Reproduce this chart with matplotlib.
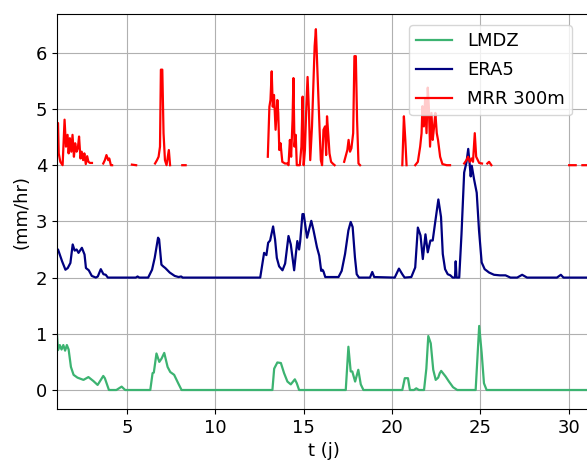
import matplotlib
matplotlib.use("Agg")
import matplotlib.pyplot as plt
import numpy as np

# LMDZ (mm/hr)
t_lmdz = [1.04, 1.1, 1.2, 1.3, 1.4, 1.5, 1.6, 1.7, 1.83, 1.98, 2.2, 2.54, 2.82, 3.1, 3.34, 3.66,
          3.75, 3.98, 4.4, 4.7, 4.9, 6.32, 6.45, 6.52, 6.67, 6.83, 6.96, 7.11, 7.3, 7.45, 7.67,
          7.9, 8.09, 13.23, 13.33, 13.51, 13.71, 13.89, 14.08, 14.27, 14.5, 14.61, 14.74, 17.38,
          17.53, 17.66, 17.75, 17.91, 18.09, 18.23, 18.38, 20.58, 20.72, 20.9, 21.01, 21.24, 21.37,
          21.52, 21.81, 21.94, 22.05, 22.19, 22.33, 22.47, 22.61, 22.7, 22.78, 23.03, 23.22, 23.45,
          23.69, 24.73, 24.93, 25.07, 25.2, 25.35, 31.2]
v_lmdz = [1.0, 0.71, 0.8, 0.72, 0.8, 0.7, 0.8, 0.72, 0.41, 0.27, 0.22, 0.18, 0.23, 0.16, 0.09, 0.25,
          0.21, 0.0, 0.0, 0.06, 0.0, 0.0, 0.3, 0.31, 0.65, 0.5, 0.56, 0.66, 0.41, 0.32, 0.27,
          0.12, 0.0, 0.0, 0.38, 0.49, 0.48, 0.3, 0.15, 0.1, 0.19, 0.12, 0.0, 0.0,
          0.77, 0.33, 0.33, 0.15, 0.36, 0.1, 0.0, 0.0, 0.21, 0.21, 0.0, 0.0, 0.03,
          0.0, 0.0, 0.38, 0.96, 0.83, 0.36, 0.18, 0.22, 0.3, 0.34, 0.24, 0.15, 0.05,
          0.0, 0.0, 1.14, 0.66, 0.12, 0.0, 0.0]

# ERA5 (decale de +2)
t_era = [1.04, 1.1, 1.33, 1.52, 1.65, 1.8, 1.93, 2.04, 2.15, 2.26, 2.45, 2.6, 2.68, 2.84, 3.01,
         3.24, 3.35, 3.52, 3.67, 3.8, 3.92, 5.5, 5.6, 5.7, 6.2, 6.42, 6.57, 6.76, 6.82, 6.95,
         7.05, 7.17, 7.42, 7.7, 7.92, 8.07, 8.15, 12.54, 12.76, 12.89, 12.99, 13.1, 13.27,
         13.38, 13.48, 13.61, 13.8, 13.95, 14.14, 14.27, 14.46, 14.55, 14.64, 14.74, 14.8,
         14.93, 15.0, 15.19, 15.43, 15.55, 15.75, 15.88, 15.99, 16.06, 16.12, 16.22, 16.97,
         17.15, 17.34, 17.53, 17.66, 17.77, 17.9, 18.0, 18.13, 18.75, 18.88, 18.99, 20.15,
         20.39, 20.58, 20.71, 21.09, 21.31, 21.46, 21.61, 21.74, 21.89, 22.02, 22.17, 22.3,
         22.43, 22.62, 22.77, 22.87, 23.0, 23.15, 23.3, 23.43, 23.56, 23.6, 23.65, 23.8, 23.93,
         24.08, 24.21, 24.31, 24.4, 24.45, 24.51, 24.64, 24.79, 24.92, 25.07, 25.24, 25.49,
         25.77, 26.1, 26.42, 26.7, 27.08, 27.36, 27.64, 29.33, 29.55, 29.7, 31.2]
v_era = [2.5, 2.5, 2.29, 2.14, 2.17, 2.26, 2.59, 2.48, 2.5, 2.44, 2.53, 2.41, 2.17, 2.13, 2.03,
         2.0, 2.02, 2.15, 2.06, 2.05, 2.0, 2.0, 2.02, 2.0, 2.0, 2.14, 2.35, 2.71, 2.68, 2.23,
         2.2, 2.17, 2.09, 2.03, 2.01, 2.02, 2.0, 2.0, 2.44, 2.4, 2.62, 2.66, 2.91,
         2.68, 2.35, 2.2, 2.13, 2.25, 2.74, 2.59, 2.13, 2.4, 2.65, 2.5, 2.64,
         3.13, 3.13, 2.71, 3.01, 2.85, 2.54, 2.39, 2.12, 2.14, 2.11, 2.01, 2.01,
         2.12, 2.42, 2.84, 2.99, 2.9, 2.36, 2.06, 2.0, 2.0, 2.1, 2.01, 2.0,
         2.16, 2.06, 2.0, 2.01, 2.18, 2.89, 2.75, 2.33, 2.77, 2.45, 2.66, 2.66,
         2.96, 3.39, 3.08, 2.42, 2.15, 2.06, 2.04, 2.0, 2.0, 2.29, 2.0, 2.0, 2.78,
         3.87, 4.05, 4.29, 3.99, 3.8, 3.99, 3.75, 3.51, 2.84, 2.27, 2.15, 2.09,
         2.05, 2.04, 2.04, 2.0, 2.0, 2.05, 2.0, 2.0, 2.05, 2.0, 2.0]

# MRR 300m (decale de +4), None = pas de mesure
t_mrr = [1.04, 1.1, 1.14, 1.23, 1.36, 1.47, 1.55, 1.64, 1.7, 1.77, 1.85, 1.92, 2.0, 2.07, 2.15,
         2.22, 2.29, 2.37, 2.44, 2.52, 2.59, 2.67, 2.75, 2.82, 2.91, 3.02, None,
         3.66, 3.75, 3.84, 3.94, 4.0, 4.09, 4.16, None,
         5.28, 5.52, None,
         6.59, 6.7, 6.79, 6.87, 6.92, 7.0, 7.07, 7.15, 7.24, 7.31, 7.37, 7.44, None,
         8.13, 8.32, None,
         12.97, 13.06, 13.12, 13.19, 13.25, 13.32, 13.41, 13.51, 13.56, 13.62, 13.69, 13.79,
         13.94, 14.07, 14.14, 14.22, 14.29, 14.37, 14.42, 14.48, 14.55, 14.61, 14.78, 14.87,
         14.94, 15.0, 15.07, 15.15, 15.22, 15.3, 15.37, 15.47, 15.54, 15.62, 15.69, 15.76,
         15.82, 15.9, 15.97, 16.04, 16.12, 16.21, 16.27, 16.32, 16.4, 16.46, 16.55, 16.64,
         16.75, None,
         17.29, 17.39, 17.47, 17.54, 17.62, 17.7, 17.8, 17.87, 17.95, 18.02, 18.1, 18.19, None,
         20.58, 20.67, 20.75, 20.82, None,
         21.31, 21.46, 21.59, 21.67, 21.72, 21.8, 21.87, 21.95, 22.02, 22.08, 22.15, 22.23,
         22.3, 22.38, 22.45, 22.53, 22.6, 22.72, 22.85, 23.09, 23.28, None,
         24.08, 24.21, 24.3, 24.4, 24.49, 24.58, 24.68, 24.76, 24.85, 24.93, 25.09, None,
         25.39, 25.49, 25.62, None,
         30.02, 30.39, None,
         30.77, 31.2]
v_mrr = [4.75, 4.75, 4.21, 4.06, 4.0, 4.81, 4.33, 4.54, 4.21, 4.48, 4.24, 4.54, 4.15, 4.39, 4.24,
         4.3, 4.51, 4.12, 4.24, 4.09, 4.21, 4.02, 4.16, 4.06, 4.04, 4.04, None,
         4.03, 4.09, 4.18, 4.09, 4.12, 4.0, 4.0, None,
         4.01, 4.0, None,
         4.03, 4.09, 4.15, 4.33, 5.7, 5.7, 4.57, 4.09, 4.0, 4.15, 4.27, 4.0, None,
         4.0, 4.0, None,
         4.15, 5.04, 5.16, 5.67, 5.04, 5.25, 4.63, 5.16, 4.93, 4.27, 4.39, 4.06,
         4.03, 4.03, 4.0, 4.45, 4.15, 4.81, 5.55, 4.33, 4.54, 4.0, 4.0, 4.33,
         5.22, 4.0, 4.27, 5.04, 5.57, 4.93, 4.09, 4.69, 5.37, 6.12, 6.42, 5.82,
         5.28, 4.63, 4.09, 4.0, 4.63, 4.69, 4.18, 4.87, 4.51, 4.21, 4.06, 4.03,
         4.0, None,
         4.06, 4.18, 4.27, 4.45, 4.24, 4.3, 4.57, 5.94, 5.94, 4.81, 4.03, 4.0, None,
         4.0, 4.87, 4.45, 4.0, None,
         4.0, 4.06, 4.33, 4.57, 5.05, 4.69, 5.17, 4.57, 5.38, 5.05, 4.33, 4.93,
         4.45, 4.69, 4.93, 4.57, 4.45, 4.15, 4.02, 4.0, 4.0, None,
         4.03, 4.09, 4.15, 4.06, 4.12, 4.06, 4.57, 4.15, 4.09, 4.04, 4.03, None,
         4.03, 4.06, 4.0, None,
         4.0, 4.0, None,
         4.0, 4.0]

t_mrr = np.array([np.nan if a is None else a for a in t_mrr])
v_mrr = np.array([np.nan if a is None else a for a in v_mrr])

fig = plt.figure(figsize=(5.87, 4.61), dpi=100)
ax = fig.add_axes([57 / 587, 52 / 461, 533 / 587, 395 / 461])

ax.plot(t_lmdz, v_lmdz, color="mediumseagreen", lw=1.6, label="LMDZ")
ax.plot(t_era, v_era, color="navy", lw=1.6, label="ERA5")
ax.plot(t_mrr, v_mrr, color="red", lw=1.6, label="MRR 300m")

ax.set_xlim(1.042, 31.2)
ax.set_ylim(-0.338, 6.69)
ax.set_xticks([5, 10, 15, 20, 25, 30])
ax.set_yticks([0, 1, 2, 3, 4, 5, 6])
ax.tick_params(labelsize=13)
ax.grid(True)
ax.set_xlabel("t (j)", fontsize=13)
ax.set_ylabel("(mm/hr)", fontsize=13)
ax.legend(loc="upper right", fontsize=13, labelspacing=0.6, bbox_to_anchor=(0.983, 0.995))

fig.savefig("out.png", dpi=100)
